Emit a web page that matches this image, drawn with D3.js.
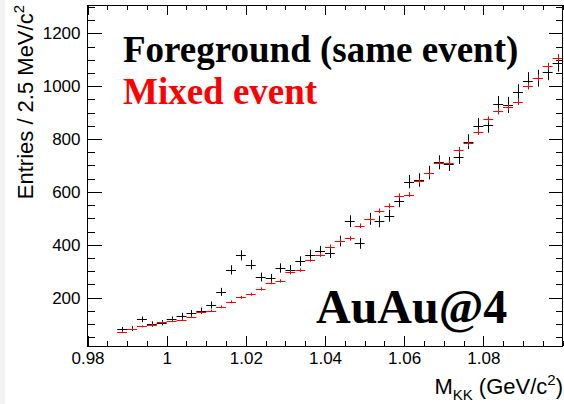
<!DOCTYPE html>
<html><head><meta charset="utf-8">
<script src="https://cdn.jsdelivr.net/npm/d3@7"></script>
<style>body{margin:0;background:#fff;overflow:hidden}</style>
</head><body>
<svg id="c" width="564" height="404"></svg>
<script>
// bin centres of M_KK (GeV/c^2), 2.5 MeV bins
const massBins = [0.98875,0.99125,0.99375,0.99625,0.99875,1.00125,1.00375,1.00625,1.00875,1.01125,
  1.01375,1.01625,1.01875,1.02125,1.02375,1.02625,1.02875,1.03125,1.03375,1.03625,
  1.03875,1.04125,1.04375,1.04625,1.04875,1.05125,1.05375,1.05625,1.05875,1.06125,
  1.06375,1.06625,1.06875,1.07125,1.07375,1.07625,1.07875,1.08125,1.08375,1.08625,
  1.08875,1.09125,1.09375,1.09625,1.09875];
const binWidth = 0.0025;
// Foreground (same event) entries
const foreground = [80,83,118,100,105,118,131,141,150,172,
  222,305,360,325,278,273,312,306,338,362,
  376,369,414,489,405,498,488,510,566,639,
  645,673,712,706,733,790,850,853,932,929,
  976,1021,1030,1055,1088];
// Mixed event (normalised) entries
const mixed = [69,82,91,98,106,112,117,127,144,150,
  165,184,201,213,233,257,263,296,304,343,
  362,393,414,424,472,496,528,547,585,590,
  641,670,711,711,759,784,827,874,905,920,
  941,1000,1031,1075,1108];
const mixedErrScale = 0.4;
const xMajor = [0.98,1.0,1.02,1.04,1.06,1.08];
const xMajorLabels = ["0.98","1","1.02","1.04","1.06","1.08"];
const yMajor = [200,400,600,800,1000,1200];
const yMajorLabels = ["200","400","600","800","1000","1200"];

const svg = d3.select("#c");
const L = 87.5, R = 562.5, T = 5, B = 346;
const x = d3.scaleLinear().domain([0.98, 1.1]).range([L, R]);
const y = d3.scaleLinear().domain([17, 1307]).range([B, T]);

svg.append("rect").attr("x",0).attr("y",0).attr("width",5).attr("height",404).attr("fill","#f2f2f2");

const xMinor = d3.range(0.98, 1.1001, 0.005).filter(v => !xMajor.some(m => Math.abs(m - v) < 1e-6));
const yMinor = d3.range(50, 1307, 50).filter(v => v % 200 !== 0);

const tickFont = "'Liberation Sans', Arial, sans-serif";

function styleAxis(g){
  g.select(".domain").remove();
  g.selectAll(".tick line").attr("stroke","#000").attr("shape-rendering","crispEdges");
  g.selectAll("text").attr("font-family", tickFont).attr("font-size", 17).attr("fill","#000");
}

// bottom
svg.append("g").attr("transform",`translate(0,${B})`)
  .call(d3.axisBottom(x).tickValues(xMajor).tickSize(-10).tickPadding(6)
    .tickFormat((d,i)=>xMajorLabels[i])).call(styleAxis);
svg.append("g").attr("transform",`translate(0,${B})`)
  .call(d3.axisBottom(x).tickValues(xMinor).tickSize(-5).tickFormat("")).call(styleAxis);
// top
svg.append("g").attr("transform",`translate(0,${T})`)
  .call(d3.axisTop(x).tickValues(xMajor).tickSize(-10).tickFormat("")).call(styleAxis);
svg.append("g").attr("transform",`translate(0,${T})`)
  .call(d3.axisTop(x).tickValues(xMinor).tickSize(-5).tickFormat("")).call(styleAxis);
// left
svg.append("g").attr("transform",`translate(${L},0)`)
  .call(d3.axisLeft(y).tickValues(yMajor).tickSize(-14).tickPadding(7)
    .tickFormat((d,i)=>yMajorLabels[i])).call(styleAxis);
svg.append("g").attr("transform",`translate(${L},0)`)
  .call(d3.axisLeft(y).tickValues(yMinor).tickSize(-7).tickFormat("")).call(styleAxis);
// right
svg.append("g").attr("transform",`translate(${R},0)`)
  .call(d3.axisRight(y).tickValues(yMajor).tickSize(-14).tickFormat("")).call(styleAxis);
svg.append("g").attr("transform",`translate(${R},0)`)
  .call(d3.axisRight(y).tickValues(yMinor).tickSize(-7).tickFormat("")).call(styleAxis);

// frame
svg.append("rect").attr("x",L).attr("y",T).attr("width",R-L).attr("height",B-T)
  .attr("fill","none").attr("stroke","#000").attr("shape-rendering","crispEdges");

// data crosses
function drawSeries(vals, errFn, color){
  const g = svg.append("g").attr("stroke", color).attr("stroke-width",1);
  vals.forEach((v,i) => {
    const c = massBins[i], e = errFn(v);
    g.append("line").attr("x1", x(c - binWidth/2)).attr("x2", x(c + binWidth/2))
      .attr("y1", Math.round(y(v))+0.5).attr("y2", Math.round(y(v))+0.5);
    g.append("line").attr("x1", Math.round(x(c))+0.5).attr("x2", Math.round(x(c))+0.5)
      .attr("y1", y(v - e)).attr("y2", y(v + e));
  });
}
drawSeries(foreground, v => Math.sqrt(v), "#000");
drawSeries(mixed, v => mixedErrScale*Math.sqrt(v), "#ff0000");

// annotations
const serif = "'Liberation Serif', 'Times New Roman', serif";
svg.append("text").attr("x",123).attr("y",62).attr("font-family",serif).attr("font-weight","bold")
  .attr("font-size",37).attr("fill","#000").text("Foreground (same event)");
svg.append("text").attr("x",123).attr("y",104).attr("font-family",serif).attr("font-weight","bold")
  .attr("font-size",37).attr("fill","#ff0000").text("Mixed event");
svg.append("text").attr("x",316).attr("y",323).attr("font-family",serif).attr("font-weight","bold")
  .attr("font-size",48).attr("fill","#000").text("AuAu@4");

// axis titles
const yt = svg.append("text").attr("transform","translate(33,5) rotate(-90)")
  .attr("text-anchor","end").attr("font-family",tickFont).attr("font-size",22).attr("fill","#000");
yt.append("tspan").text("Entries / 2.5 MeV/c");
yt.append("tspan").attr("dy",-9).attr("font-size",15).text("2");

const xt = svg.append("text").attr("x",563).attr("y",394)
  .attr("text-anchor","end").attr("font-family",tickFont).attr("font-size",22).attr("fill","#000");
xt.append("tspan").text("M");
xt.append("tspan").attr("dy",6).attr("font-size",15).text("KK");
xt.append("tspan").attr("dy",-6).text(" (GeV/c");
xt.append("tspan").attr("dy",-9).attr("font-size",15).text("2");
xt.append("tspan").attr("dy",9).text(")");
</script>
</body></html>
